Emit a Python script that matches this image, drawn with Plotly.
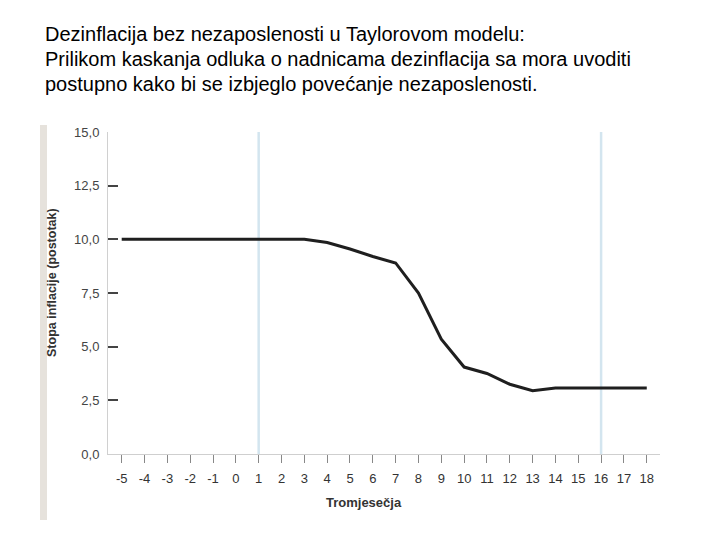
import plotly.graph_objects as go

quarters = list(range(-5, 19))
inflation = [10.0, 10.0, 10.0, 10.0, 10.0, 10.0, 10.0, 10.0, 10.0,
             9.85, 9.55, 9.2, 8.9, 7.5, 5.35, 4.05, 3.75, 3.25, 2.95,
             3.07, 3.07, 3.07, 3.07, 3.07]
marker_quarters = [1, 16]
y_ticks = [0, 2.5, 5, 7.5, 10, 12.5, 15]

title_lines = [
    "Dezinflacija bez nezaposlenosti u Taylorovom modelu:",
    "Prilikom kaskanja odluka o nadnicama dezinflacija sa mora uvoditi",
    "postupno kako bi se izbjeglo povećanje nezaposlenosti.",
]

# page body has an 8px margin; work in page pixels and convert
OFF = 8
W, H = 720 - OFF, 540 - OFF
L, T = 108 - OFF, 132 - OFF
PLOT_R, PLOT_B = 660 - OFF, 454 - OFF
R, B = W - PLOT_R, H - PLOT_B
ph = H - T - B
pw = W - L - R

def py(p):
    return (PLOT_B - (p - OFF)) / ph

def px(p):
    return ((p - OFF) - L) / pw

FONT = "Liberation Sans, Arial"

fig = go.Figure()

for q in marker_quarters:
    fig.add_trace(go.Scatter(x=[q, q], y=[0, 15], mode="lines",
                             line=dict(color="#d3e5ef", width=2.5),
                             hoverinfo="skip", showlegend=False))

fig.add_trace(go.Scatter(x=quarters, y=inflation, mode="lines",
                         line=dict(color="#1f1f1f", width=3),
                         showlegend=False))

annotations = []
for i, t in enumerate(title_lines):
    annotations.append(dict(text=t, xref="paper", yref="paper",
                            x=px(43), y=py(34 + 25 * i), xanchor="left", yanchor="middle",
                            showarrow=False,
                            font=dict(family=FONT, size=20, color="#000000")))
annotations.append(dict(text="<b>Stopa inflacije (postotak)</b>", xref="paper", yref="paper",
                        x=px(52), y=py(283), xanchor="center", yanchor="middle",
                        textangle=-90, showarrow=False,
                        font=dict(family=FONT, size=12.5, color="#333333")))
annotations.append(dict(text="<b>Tromjesečja</b>", xref="paper", yref="paper",
                        x=px(364), y=py(502), xanchor="center", yanchor="middle",
                        showarrow=False,
                        font=dict(family=FONT, size=13, color="#333333")))

fig.update_layout(
    width=W, height=H,
    margin=dict(l=L, r=R, t=T, b=B),
    paper_bgcolor="white", plot_bgcolor="white",
    separators=", ",
    annotations=annotations,
    shapes=[dict(type="rect", xref="paper", yref="paper",
                 x0=px(40), x1=px(47), y0=py(520), y1=py(125),
                 fillcolor="#e6e2dc", line=dict(width=0), layer="below")],
    xaxis=dict(range=[-5.6, 18.58], tickmode="array", tickvals=quarters,
               ticktext=[str(q) for q in quarters],
               showgrid=False, zeroline=False, showline=True,
               linecolor="#cfcfcf", linewidth=1,
               ticks="outside", ticklen=8, tickcolor="#888888", tickwidth=1,
               ticklabelstandoff=4,
               tickfont=dict(family=FONT, size=13, color="#333333")),
    yaxis=dict(range=[0, 15], tickmode="array", tickvals=y_ticks,
               tickformat=".1f",
               showgrid=False, zeroline=False, showline=True,
               linecolor="#d0d0d0", linewidth=1,
               ticks="inside", ticklen=10, tickcolor="#444444", tickwidth=1.5,
               ticklabelstandoff=5,
               tickfont=dict(family=FONT, size=13, color="#444444")),
)

fig.write_html("out.html")
